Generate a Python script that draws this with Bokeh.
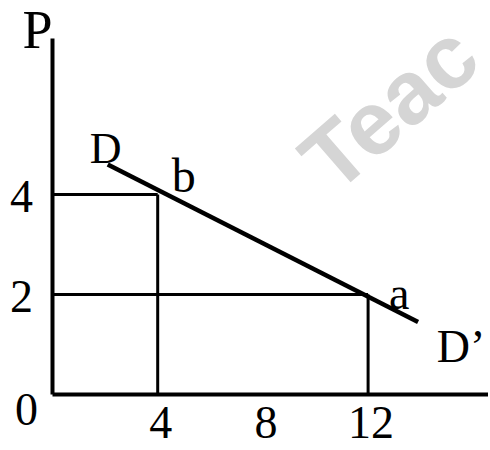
from bokeh.plotting import figure
from bokeh.models import Range1d
from bokeh.core.properties import value
from bokeh.embed import file_html
from bokeh.resources import INLINE
import math

# ---- data ----
q_ticks = [4, 8, 12]
q_tick_labels = ["4", "8", "12"]
p_ticks = [2, 4]
p_tick_labels = ["2", "4"]

demand_q = [2.1, 13.9]
demand_p = [4.6, 1.45]
demand_labels = ["D", "D\u2019"]

point_q = [4, 12]
point_p = [4, 2]
point_labels = ["b", "a"]

x_min, x_max = -1.977, 16.578
y_min, y_max = -1.08, 7.88
y_axis_top = 7.12

FONT = value("Liberation Serif")

p = figure(width=488, height=448, x_range=Range1d(x_min, x_max), y_range=Range1d(y_min, y_max),
           x_axis_location=None, y_axis_location=None, output_backend="svg",
           toolbar_location=None, min_border=0)
p.grid.visible = False
p.outline_line_color = None
p.background_fill_color = "white"
p.border_fill_color = "white"

# watermark
p.text(x=[9.96], y=[4.44], text=["Teac"], angle=math.radians(41),
       text_font=value("Liberation Sans"), text_font_style="bold", text_font_size="90px",
       text_color="#d5d5d5", text_align="left", text_baseline="alphabetic")

# axes lines
p.segment(x0=[0, 0], y0=[0, 0], x1=[x_max, 0], y1=[0, y_axis_top], line_color="black", line_width=4)

# guide lines from points
p.segment(x0=[0] * len(point_q), y0=point_p, x1=point_q, y1=point_p, line_color="black", line_width=3)
p.segment(x0=point_q, y0=[0] * len(point_q), x1=point_q, y1=point_p, line_color="black", line_width=3)

# demand curve
p.line(x=demand_q, y=demand_p, line_color="black", line_width=4.5)

# tick labels
p.text(x=q_ticks, y=[0] * len(q_ticks), text=q_tick_labels, x_offset=3, y_offset=28,
       text_font=FONT, text_font_size="46px", text_color="black",
       text_align="center", text_baseline="middle")
p.text(x=[0] * len(p_ticks), y=p_ticks, text=p_tick_labels, x_offset=-31, y_offset=2,
       text_font=FONT, text_font_size="46px", text_color="black",
       text_align="center", text_baseline="middle")
p.text(x=[0], y=[0], text=["0"], x_offset=-26, y_offset=15,
       text_font=FONT, text_font_size="46px", text_color="black",
       text_align="center", text_baseline="middle")
# axis title
p.text(x=[0], y=[y_axis_top], text=["P"], x_offset=-15, y_offset=-9,
       text_font=FONT, text_font_size="54px", text_color="black",
       text_align="center", text_baseline="middle")

# curve labels
p.text(x=[demand_q[0]], y=[demand_p[0]], text=[demand_labels[0]], x_offset=-2, y_offset=-16,
       text_font=FONT, text_font_size="44px", text_color="black",
       text_align="center", text_baseline="middle")
p.text(x=[demand_q[1]], y=[demand_p[1]], text=[demand_labels[1]], x_offset=43, y_offset=24,
       text_font=FONT, text_font_size="46px", text_color="black",
       text_align="center", text_baseline="middle")

# point labels
p.text(x=[point_q[0]], y=[point_p[0]], text=[point_labels[0]], x_offset=26, y_offset=-19,
       text_font=FONT, text_font_size="48px", text_color="black",
       text_align="center", text_baseline="middle")
p.text(x=[point_q[1]], y=[point_p[1]], text=[point_labels[1]], x_offset=31, y_offset=-1,
       text_font=FONT, text_font_size="46px", text_color="black",
       text_align="center", text_baseline="middle")

open("out.html", "w").write(file_html(p, INLINE))
